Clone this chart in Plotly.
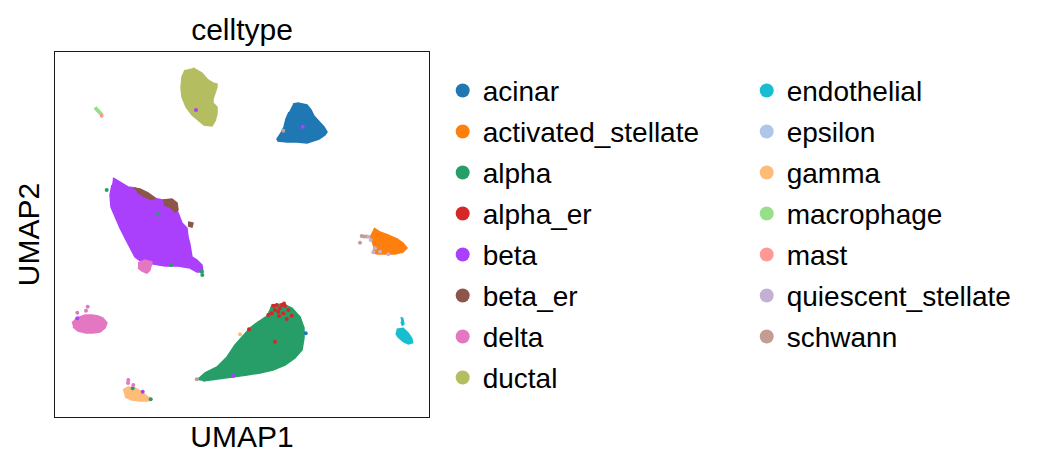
import plotly.graph_objects as go

## categories + scanpy default palette
celltypes = ['acinar', 'activated_stellate', 'alpha', 'alpha_er', 'beta', 'beta_er',
             'delta', 'ductal', 'endothelial', 'epsilon', 'gamma', 'macrophage',
             'mast', 'quiescent_stellate', 'schwann']
palette = ['#1f77b4', '#ff7f0e', '#279e68', '#d62728', '#aa40fc', '#8c564b',
           '#e377c2', '#b5bd61', '#17becf', '#aec7e8', '#ffbb78', '#98df8a',
           '#ff9896', '#c5b0d5', '#c49c94']

## cluster outlines (UMAP1 -> x, UMAP2 -> y)
ductal_x = [138, 147, 153, 158, 162, 162, 160, 158, 158, 162, 162, 160, 157, 149, 143, 137, 131, 127, 126, 127, 130]
ductal_y = [349, 344, 337, 334, 333, 330, 324, 318, 314, 310, 303, 296, 291, 292, 297, 302, 310, 320, 329, 340, 347]

acinar_x = [238, 243, 252, 256, 259, 264, 269, 272, 270, 264, 258, 252, 242, 232, 223, 222, 226, 229, 231, 234]
acinar_y = [313, 314, 312, 307, 301, 295, 290, 285, 282, 278, 276, 274, 275, 275, 276, 278, 284, 290, 298, 305]

beta_x = [58, 65, 73, 80, 90, 98, 107, 117, 122, 125, 127, 132, 133, 135, 137, 142, 147, 148,
          142, 135, 123, 110, 97, 87, 80, 75, 70, 65, 60, 56, 55, 57]
beta_y = [239, 235, 230, 229, 224, 219, 217, 215, 207, 200, 194, 189, 180, 172, 160, 157, 152, 145,
          145, 149, 151, 151, 153, 155, 160, 169, 179, 189, 200, 210, 222, 232]

beta_er_x = [79, 85, 93, 100, 97, 90, 82, None, 108, 117, 122, 123, 120, 115, 109, None, 133, 138, 137, 133]
beta_er_y = [229, 228, 224, 219, 217, 220, 225, None, 217, 218, 214, 207, 205, 210, 212, None, 195, 194, 190, 191]

alpha_x = [142, 150, 162, 172, 180, 187, 195, 203, 212, 215, 217, 228, 237, 245, 249, 249, 247,
           240, 230, 218, 205, 192, 177, 160, 148]
alpha_y = [37, 44, 50, 60, 72, 80, 89, 95, 101, 107, 112, 113, 109, 100, 89, 79, 67,
           59, 52, 47, 44, 42, 40, 38, 36]

delta_x = [17, 22, 30, 37, 43, 48, 52, 50, 45, 38, 31, 23, 18, None, 83, 90, 97, 95, 92, 87, 83]
delta_y = [94, 99, 102, 102, 101, 99, 94, 89, 85, 84, 84, 86, 90, None, 154, 157, 155, 147, 144, 146, 149]

gamma_x = [68, 73, 80, 87, 93, 97, 93, 85, 77, 70]
gamma_y = [27, 30, 29, 25, 20, 18, 16, 16, 17, 20]

act_stellate_x = [319, 325, 333, 342, 348, 352, 348, 340, 332, 323, 318, 319, 317, 315]
act_stellate_y = [189, 185, 182, 178, 174, 169, 165, 163, 163, 163, 164, 170, 176, 181]

endothelial_x = [345.7, 347.7, 349, 347.3, 346, None, 341.7, 348.3, 353.3, 356.7, 357.7, 353.3, 348.3, 343.3, 340.7]
endothelial_y = [99.7, 98.7, 93, 91.7, 95.3, None, 87.7, 88.7, 83.7, 78.7, 74.3, 73, 75.3, 79.7, 83.7]

macrophage_x = [40.9, 47.4, 45.6, 39.1]
macrophage_y = [310.3, 303.3, 301.7, 308.7]

## single cells that sit away from their own cluster
alpha_er_pts_x = [218.3, 221.7, 226.7, 230, 225, 220, 233.3, 216.7, 223.3, 228.3, 231.7, 220, 194, 213.3, 236.7, 224, 229]
alpha_er_pts_y = [111.3, 112, 112, 111, 108.7, 107, 107, 103.7, 105.3, 103.7, 98, 75.3, 87.7, 102, 101.3, 101, 113.5]
beta_pts_x = [141, 178.3, 247.7, 87.7, 22.3]
beta_pts_y = [307, 41, 290.3, 25.3, 98.7]
alpha_pts_x = [51.7, 146.7, 147.3, 103.3, 116, 95.7, 77.7]
alpha_pts_y = [227, 145.3, 142, 202.7, 152, 17.7, 28.7]
delta_pts_x = [32.7, 31, 22.3, 73.3, 78.3, 73]
delta_pts_y = [110.3, 106.3, 104.3, 37, 32, 34]
acinar_pts_x = [250.7]
acinar_pts_y = [83.7]
gamma_pts_x = [185]
gamma_pts_y = [82.7]
schwann_pts_x = [306.7, 309, 311.7, 305, 228.3, 141.7]
schwann_pts_y = [181, 180.5, 180.5, 174.3, 286.3, 37.7]
quiescent_pts_x = [313.3, 315.7, 320, 318.3, 333.3, 325]
quiescent_pts_y = [180.3, 177, 168.7, 164.7, 162.7, 165.3]
mast_pts_x = [46.7]
mast_pts_y = [301.3]

colour = dict(zip(celltypes, palette))

fig = go.Figure()

## filled cluster shapes
shapes = [('ductal', ductal_x, ductal_y), ('acinar', acinar_x, acinar_y),
          ('beta', beta_x, beta_y), ('beta_er', beta_er_x, beta_er_y),
          ('alpha', alpha_x, alpha_y), ('delta', delta_x, delta_y),
          ('gamma', gamma_x, gamma_y), ('activated_stellate', act_stellate_x, act_stellate_y),
          ('endothelial', endothelial_x, endothelial_y), ('macrophage', macrophage_x, macrophage_y)]
for name, xs, ys in shapes:
    fig.add_trace(go.Scatter(
        x=xs, y=ys, mode='lines', fill='toself',
        fillcolor=colour[name],
        line=dict(color=colour[name], width=1.5),
        legendgroup=name, showlegend=False, hoverinfo='skip'))

## scattered cells on top
points = [('alpha_er', alpha_er_pts_x, alpha_er_pts_y), ('beta', beta_pts_x, beta_pts_y),
          ('alpha', alpha_pts_x, alpha_pts_y), ('delta', delta_pts_x, delta_pts_y),
          ('acinar', acinar_pts_x, acinar_pts_y), ('gamma', gamma_pts_x, gamma_pts_y),
          ('schwann', schwann_pts_x, schwann_pts_y),
          ('quiescent_stellate', quiescent_pts_x, quiescent_pts_y),
          ('mast', mast_pts_x, mast_pts_y)]
for name, xs, ys in points:
    fig.add_trace(go.Scatter(
        x=xs, y=ys, mode='markers',
        marker=dict(color=colour[name], size=4, line=dict(width=0)),
        legendgroup=name, showlegend=False, hoverinfo='skip'))

## legend entries, two columns like scanpy
for i, name in enumerate(celltypes):
    fig.add_trace(go.Scatter(
        x=[None], y=[None], mode='markers', name=name,
        marker=dict(color=colour[name], size=14, line=dict(width=0)),
        legendgroup=name, legend='legend' if i < 8 else 'legend2'))

legend_style = dict(xref='paper', yref='paper', xanchor='left', yanchor='top', y=0.9622,
                    font=dict(size=28), tracegroupgap=1.6, itemsizing='trace',
                    bgcolor='rgba(0,0,0,0)', borderwidth=0)

axis_style = dict(showgrid=False, zeroline=False, showticklabels=False,
                  ticks='', showline=True, mirror=True, linecolor='#1a1a1a', linewidth=1.2,
                  fixedrange=True, automargin=False)

## page body has an 8px margin, so the figure is a bit smaller than the window
fig.update_layout(
    width=1033, height=464,
    margin=dict(l=47, r=612, t=44, b=55, autoexpand=False),
    plot_bgcolor='white', paper_bgcolor='white',
    font=dict(family='Liberation Sans, Arial, sans-serif', size=28, color='black'),
    title=dict(text='celltype', x=0.5, xref='paper', xanchor='center',
               y=0.9543, yref='container', yanchor='middle', font=dict(size=30)),
    xaxis=dict(axis_style, range=[0, 374],
               title=dict(text='UMAP1', standoff=8, font=dict(size=30))),
    yaxis=dict(axis_style, range=[0, 365],
               title=dict(text='UMAP2', standoff=5, font=dict(size=30))),
    legend=dict(legend_style, x=1.0366),
    legend2=dict(legend_style, x=1.8495),
)

fig.write_html("out.html")
